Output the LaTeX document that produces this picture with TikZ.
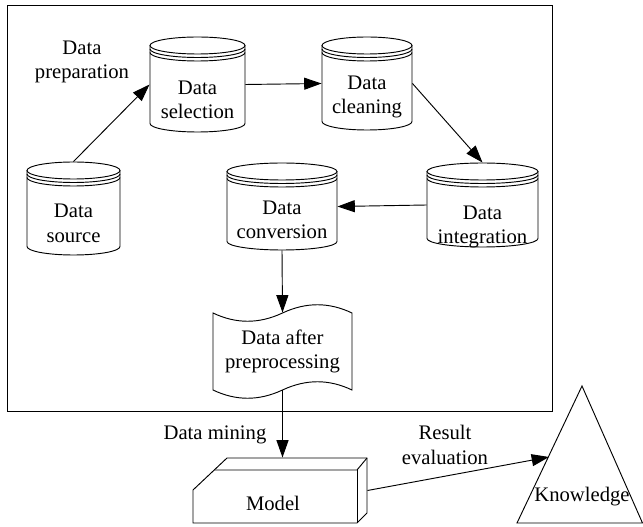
\documentclass[tikz,border=0pt]{standalone}
\usepackage{fontspec}
\setmainfont{Liberation Serif}
\usetikzlibrary{arrows.meta}
\tikzset{
  arr/.style={-{Triangle[length=13pt,width=9pt]}},
  hold/.style={inner sep=0pt},
  lbl/.style={align=center, inner sep=0pt}
}

\begin{document}
\begin{tikzpicture}[x=0.75pt, y=0.75pt, line width=0.7pt, font=\fontsize{15.5}{18.5}\selectfont]
\useasboundingbox (0,0) rectangle (643,-527);

% preparation frame
\draw (7,-5) rectangle (552,-411);
\node[lbl] (prep) at (82,-62) {Data\\preparation};

% data source
\node[hold, minimum width=69.75pt, minimum height=69.75pt] (src) at (73.5,-208.5) {};
\draw (73.5,-170.5) ellipse [x radius=46.5, y radius=8.5];
\draw (27,-174) arc[start angle=180, end angle=360, x radius=46.5, y radius=8.5];
\draw (27,-177.5) arc[start angle=180, end angle=360, x radius=46.5, y radius=8.5];
\draw (27,-170.5) -- (27,-246.5) arc[start angle=180, end angle=360, x radius=46.5, y radius=8.5] -- (120,-170.5);
\node[lbl] (src-txt) at (73.5,-223.5) {Data\\source};

% data selection
\node[hold, minimum width=71.25pt, minimum height=71.25pt] (sel) at (197.5,-84.5) {};
\draw (197.5,-45.5) ellipse [x radius=47.5, y radius=8.5];
\draw (150,-49) arc[start angle=180, end angle=360, x radius=47.5, y radius=8.5];
\draw (150,-52.5) arc[start angle=180, end angle=360, x radius=47.5, y radius=8.5];
\draw (150,-45.5) -- (150,-123.5) arc[start angle=180, end angle=360, x radius=47.5, y radius=8.5] -- (245,-45.5);
\node[lbl] (sel-txt) at (197.5,-100) {Data\\selection};

% data cleaning
\node[hold, minimum width=67.5pt, minimum height=69.75pt] (cln) at (367,-83.5) {};
\draw (367,-45.5) ellipse [x radius=45, y radius=8.5];
\draw (322,-49) arc[start angle=180, end angle=360, x radius=45, y radius=8.5];
\draw (322,-52.5) arc[start angle=180, end angle=360, x radius=45, y radius=8.5];
\draw (322,-45.5) -- (322,-121.5) arc[start angle=180, end angle=360, x radius=45, y radius=8.5] -- (412,-45.5);
\node[lbl] (cln-txt) at (367,-97) {Data\\cleaning};

% data integration
\node[hold, minimum width=83.25pt, minimum height=63pt] (intg) at (482.5,-205) {};
\draw (482.5,-171.5) ellipse [x radius=55.5, y radius=8.5];
\draw (427,-175) arc[start angle=180, end angle=360, x radius=55.5, y radius=8.5];
\draw (427,-178.5) arc[start angle=180, end angle=360, x radius=55.5, y radius=8.5];
\draw (427,-171.5) -- (427,-238.5) arc[start angle=180, end angle=360, x radius=55.5, y radius=8.5] -- (538,-171.5);
\node[lbl] (intg-txt) at (482.5,-227) {Data\\integration};

% data conversion
\node[hold, minimum width=82.5pt, minimum height=65.25pt] (conv) at (282,-206.5) {};
\draw (282,-171.5) ellipse [x radius=55, y radius=8.5];
\draw (227,-175) arc[start angle=180, end angle=360, x radius=55, y radius=8.5];
\draw (227,-178.5) arc[start angle=180, end angle=360, x radius=55, y radius=8.5];
\draw (227,-171.5) -- (227,-241.5) arc[start angle=180, end angle=360, x radius=55, y radius=8.5] -- (337,-171.5);
\node[lbl] (conv-txt) at (282,-220) {Data\\conversion};

% data after preprocessing
\draw (213,-313) .. controls (236,-324) and (259,-324) .. (282.5,-313)
  .. controls (306,-302) and (329,-302) .. (352,-313) -- (352,-390)
  .. controls (329,-379) and (306,-379) .. (282.5,-390)
  .. controls (259,-401) and (236,-401) .. (213,-390) -- cycle;
\node[hold, lbl, minimum width=104.25pt, minimum height=57.75pt] (doc) at (282.5,-351.5) {Data after\\preprocessing};

% model
\node[hold, minimum width=130.5pt, minimum height=48.75pt] (model) at (280,-490.5) {};
\draw (193,-490) -- (227,-458) -- (367,-458) -- (367,-513) -- (357,-523) -- (193,-523) -- cycle;
\draw (214.25,-470) -- (357,-470) -- (367,-458);
\draw (357,-470) -- (357,-523);
\node[lbl] (model-txt) at (273,-503) {Model};

% knowledge
\draw (582,-386) -- (642.5,-523) -- (517,-523) -- cycle;
\coordinate (know-w) at (549,-457);
\node[lbl] (know) at (582,-497) {Knowledge};

% connectors
\draw[arr] (src.north) -- (sel.west);
\draw[arr] (sel.east) -- (cln.west);
\draw[arr] (cln.east) -- (intg.north);
\draw[arr] (intg.west) -- (conv.east);
\draw[arr] (conv.south) -- (doc.north);
\draw[arr] (doc.south) -- (doc.south |- model.north);
\draw[arr] (model.east) -- (know-w);

\node[lbl] (mine) at (215,-435) {Data mining};
\node[lbl] (eval) at (445,-445) {Result\\evaluation};
\end{tikzpicture}
\end{document}
